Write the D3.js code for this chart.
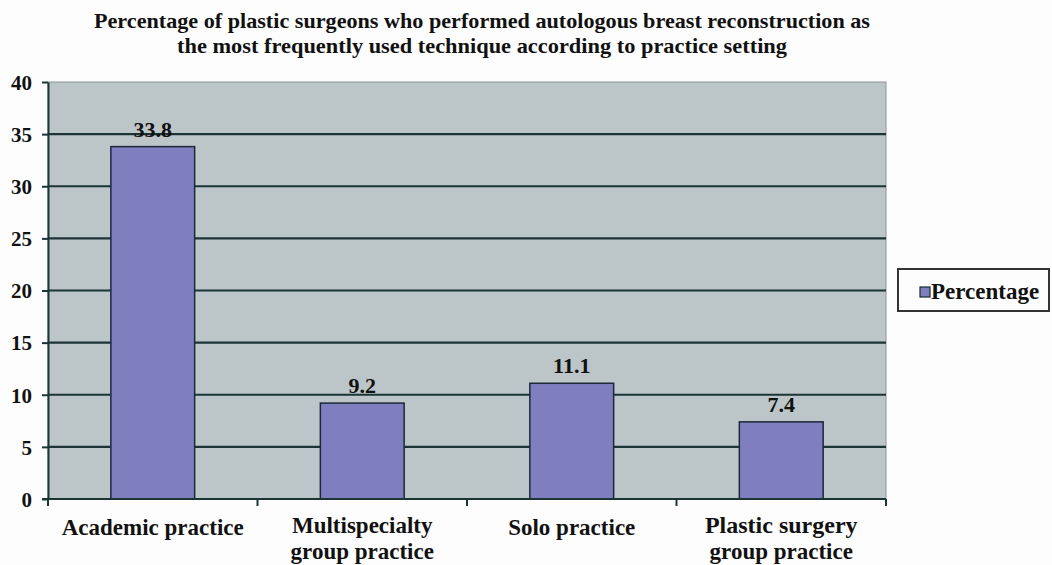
<!DOCTYPE html>
<html>
<head>
<meta charset="utf-8">
<script src="https://cdn.jsdelivr.net/npm/d3@7"></script>
<style>
  html, body { margin: 0; padding: 0; background: #fdfdfd; }
  text { font-family: "Liberation Serif", "Times New Roman", serif; font-weight: bold; fill: #111; }
</style>
</head>
<body>
<div id="chart"></div>
<script>
// chart data
const categories = [
  ['Academic practice'],
  ['Multispecialty', 'group practice'],
  ['Solo practice'],
  ['Plastic surgery', 'group practice']
];
const values = [33.8, 9.2, 11.1, 7.4];
const yTicks = [0, 5, 10, 15, 20, 25, 30, 35, 40];
const seriesName = 'Percentage';
const titleLines = [
  'Percentage of plastic surgeons who performed autologous breast reconstruction as',
  'the most frequently used technique according to practice setting'
];

const width = 1052, height = 565;
const plot = { left: 48, right: 886, top: 82, bottom: 499 };

const svg = d3.select('#chart').append('svg')
  .attr('width', width)
  .attr('height', height);

const x = d3.scaleBand()
  .domain(categories.map((d, i) => i))
  .range([plot.left, plot.right])
  .paddingInner(0.6)
  .paddingOuter(0.3);

// band edges for category ticks (one band per category, no padding)
const xEdge = d3.scaleBand()
  .domain(categories.map((d, i) => i))
  .range([plot.left, plot.right]);

const y = d3.scaleLinear().domain([0, 40]).range([plot.bottom, plot.top]);

// plot background
svg.append('rect')
  .attr('x', plot.left).attr('y', plot.top)
  .attr('width', plot.right - plot.left)
  .attr('height', plot.bottom - plot.top)
  .attr('fill', '#bcc5c7')
  .attr('stroke', '#8a9699')
  .attr('stroke-width', 1);

// gridlines
svg.append('g')
  .selectAll('line')
  .data(yTicks.filter(t => t > 0 && t < 40))
  .enter()
  .append('line')
  .attr('x1', plot.left).attr('x2', plot.right)
  .attr('y1', d => y(d)).attr('y2', d => y(d))
  .attr('stroke', '#1c3436')
  .attr('stroke-width', 2.2);

// bars
svg.append('g')
  .selectAll('rect')
  .data(values)
  .enter()
  .append('rect')
  .attr('x', (d, i) => x(i))
  .attr('y', d => y(d))
  .attr('width', x.bandwidth())
  .attr('height', d => plot.bottom - y(d))
  .attr('fill', '#7f7fbf')
  .attr('stroke', '#1a2838')
  .attr('stroke-width', 1.5);

// value labels
svg.append('g')
  .selectAll('text')
  .data(values)
  .enter()
  .append('text')
  .attr('x', (d, i) => x(i) + x.bandwidth() / 2)
  .attr('y', d => y(d) - 10)
  .attr('text-anchor', 'middle')
  .attr('font-size', '22px')
  .text(d => d.toFixed(1));

// y axis
const yAxis = svg.append('g')
  .attr('transform', `translate(${plot.left},0)`)
  .call(d3.axisLeft(y).tickValues(yTicks).tickSize(6).tickPadding(10).tickSizeOuter(0));
yAxis.select('.domain').attr('stroke', '#1c3436').attr('stroke-width', 2);
yAxis.selectAll('.tick line').attr('stroke', '#1c3436').attr('stroke-width', 2);
yAxis.selectAll('.tick text')
  .attr('font-size', '21px')
  .attr('fill', '#111')
  .attr('dy', '0.35em');

// x axis line and category ticks
const xAxisG = svg.append('g');
xAxisG.append('line')
  .attr('x1', plot.left - 6).attr('x2', plot.right)
  .attr('y1', plot.bottom).attr('y2', plot.bottom)
  .attr('stroke', '#1c3436')
  .attr('stroke-width', 2);
const edges = categories.map((d, i) => xEdge(i)).concat([plot.right]);
xAxisG.selectAll('line.tick')
  .data(edges)
  .enter()
  .append('line')
  .attr('class', 'tick')
  .attr('x1', d => d).attr('x2', d => d)
  .attr('y1', plot.bottom).attr('y2', plot.bottom + 7)
  .attr('stroke', '#1c3436')
  .attr('stroke-width', 2);

// category labels
const catLabels = xAxisG.selectAll('text.cat')
  .data(categories)
  .enter()
  .append('text')
  .attr('class', 'cat')
  .attr('x', (d, i) => xEdge(i) + xEdge.bandwidth() / 2)
  .attr('y', d => d.length > 1 ? 533 : 535)
  .attr('text-anchor', 'middle')
  .attr('font-size', '23px');
catLabels.each(function(d, i) {
  const t = d3.select(this);
  const cx = xEdge(i) + xEdge.bandwidth() / 2;
  d.forEach((line, j) => {
    t.append('tspan')
      .attr('x', cx)
      .attr('dy', j === 0 ? 0 : 26)
      .attr('font-size', i === 3 && j === 0 ? '24px' : '23px')
      .text(line);
  });
});

// title
svg.append('g')
  .selectAll('text')
  .data(titleLines)
  .enter()
  .append('text')
  .attr('x', 482)
  .attr('y', (d, i) => 28 + i * 25)
  .attr('text-anchor', 'middle')
  .attr('font-size', '22px')
  .attr('textLength', (d, i) => i === 0 ? 776 : 610)
  .attr('lengthAdjust', 'spacingAndGlyphs')
  .text(d => d);

// legend
const legend = svg.append('g');
legend.append('rect')
  .attr('x', 898).attr('y', 269)
  .attr('width', 151).attr('height', 42)
  .attr('fill', '#fdfdfd')
  .attr('stroke', '#333')
  .attr('stroke-width', 2);
legend.append('rect')
  .attr('x', 920).attr('y', 287)
  .attr('width', 10).attr('height', 10)
  .attr('fill', '#7f7fbf')
  .attr('stroke', '#1a2838')
  .attr('stroke-width', 1.2);
legend.append('text')
  .attr('x', 931).attr('y', 299)
  .attr('font-size', '23px')
  .text(seriesName);
</script>
</body>
</html>
